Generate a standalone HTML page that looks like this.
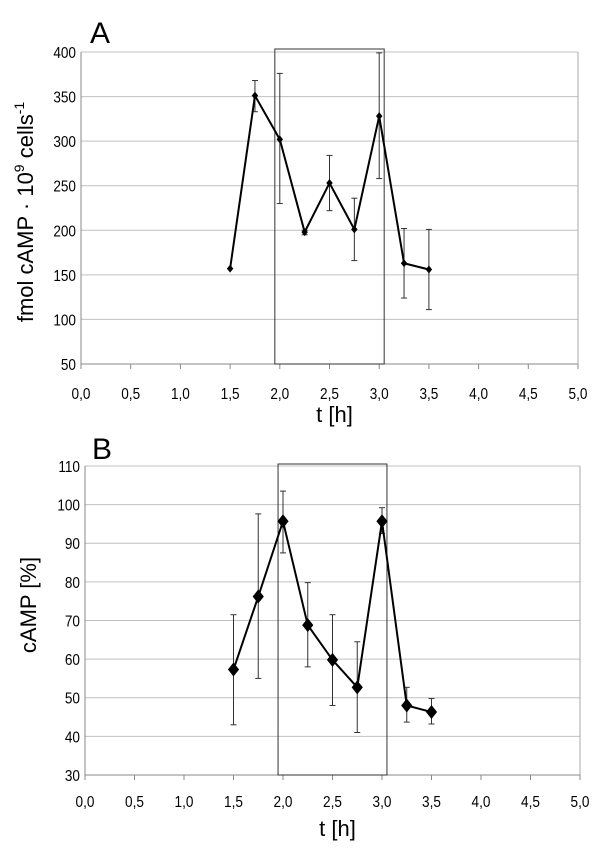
<!DOCTYPE html>
<html><head><meta charset="utf-8"><style>
html,body{margin:0;padding:0;background:#fff;}
svg{display:block;font-family:"Liberation Sans",Arial,sans-serif;}
</style></head><body>
<svg id="c" width="600" height="848" viewBox="0 0 600 848"></svg>
<script>
const xTicks=[0,0.5,1,1.5,2,2.5,3,3.5,4,4.5,5];
const xTickLabels=["0,0","0,5","1,0","1,5","2,0","2,5","3,0","3,5","4,0","4,5","5,0"];
const times=[1.5,1.75,2.0,2.25,2.5,2.75,3.0,3.25,3.5];
const aValues=[157,351,302,198,253,201,328,163,156];
const aErrLow=[157,333,230,195,222,166,258,124,111];
const aErrHigh=[157,368,376,200,284,236,399,202,201];
const aTicks=[50,100,150,200,250,300,350,400];
const bValues=[57.3,76.2,95.7,68.8,59.8,52.7,95.7,48,46.3];
const bErrLow=[43,55,87.5,58,48,41,92.5,43.7,43.2];
const bErrHigh=[71.5,97.6,103.5,79.8,71.5,64.5,99.2,52.7,49.8];
const bTicks=[30,40,50,60,70,80,90,100,110];
const boxRange=[1.95,3.05];

const NS="http://www.w3.org/2000/svg";
const svg=document.getElementById('c');
function mk(tag,attrs,parent){const e=document.createElementNS(NS,tag);for(const k in attrs)e.setAttribute(k,attrs[k]);(parent||svg).appendChild(e);return e;}

function panel(o){
  const g=mk('g',{});
  
  
  const xs=v=>o.L+(v-0)/(5-0)*(o.R-o.L);
  const ys=v=>o.B-(v-o.ymin)/(o.ymax-o.ymin)*(o.B-o.T);
  o.yt.forEach(t=>{
    const l=mk('line',{x1:o.L,x2:o.R,y1:ys(t),y2:ys(t),stroke:'#c0c0c0','stroke-width':1},g);
    
    
    const tx=mk('text',{x:o.L-5,y:ys(t)+6,'text-anchor':'end','font-size':16,fill:'#000',transform:`translate(${o.L-5},0) scale(0.85,1) translate(${-(o.L-5)},0)`},g);
    tx.textContent=t;
    
    
  });
  const ax=mk('line',{x1:o.L,x2:o.R,y1:o.B,y2:o.B,stroke:'#888','stroke-width':1},g);
  
  
  const ay=mk('line',{x1:o.L,x2:o.L,y1:o.T,y2:o.B,stroke:'#888','stroke-width':1},g);
  
  
  const ar=mk('line',{x1:o.R,x2:o.R,y1:o.T,y2:o.B,stroke:'#aaa','stroke-width':1},g);
  
  
  xTicks.forEach((t,i)=>{
    const l=mk('line',{x1:xs(t),x2:xs(t),y1:o.B,y2:o.B+5,stroke:'#888'},g);
    
    
    const tx=mk('text',{x:xs(t),y:o.xl,'text-anchor':'middle','font-size':16,transform:`translate(${xs(t)},0) scale(0.85,1) translate(${-xs(t)},0)`},g);
    tx.textContent=xTickLabels[i];
    
    
  });
  const box=mk('rect',{x:xs(boxRange[0]),y:o.boxT,width:xs(boxRange[1])-xs(boxRange[0]),height:o.B-o.boxT,fill:'none',stroke:'#333','stroke-width':1},g);
  
  
  times.forEach((t,i)=>{
    const x=xs(t);
    const e=mk('g',{stroke:'#333','stroke-width':1},g);
    
    
    mk('line',{x1:x,x2:x,y1:ys(o.lo[i]),y2:ys(o.hi[i])},e);
    mk('line',{x1:x-3,x2:x+3,y1:ys(o.lo[i]),y2:ys(o.lo[i])},e);
    mk('line',{x1:x-3,x2:x+3,y1:ys(o.hi[i]),y2:ys(o.hi[i])},e);
  });
  const pts=times.map((t,i)=>xs(t)+','+ys(o.vals[i])).join(' ');
  const pl=mk('polyline',{points:pts,fill:'none',stroke:'#000','stroke-width':2},g);
  
  
  times.forEach((t,i)=>{
    const x=xs(t),y=ys(o.vals[i]),m=o.m;
    const p=mk('polygon',{points:`${x},${y-m} ${x+m*0.8},${y} ${x},${y+m} ${x-m*0.8},${y}`,fill:'#000'},g);
    
    
  });
  const xt=mk('text',{x:(o.L+o.R)/2+5,y:o.xt,'text-anchor':'middle','font-size':22},g);
  xt.textContent='t [h]';
  
  
  const pl2=mk('text',{x:o.lx,y:o.ly,'font-size':30},g);
  pl2.textContent=o.letter;
  
  
  return {g,ys};
}
const A=panel({name:'panel-a',L:81,R:578,T:52,B:364,ymin:50,ymax:400,yt:aTicks,vals:aValues,lo:aErrLow,hi:aErrHigh,m:4,xl:399,xt:422,boxT:49,lx:90,ly:43,letter:'A'});
const ya=mk('text',{transform:'translate(33,212) rotate(-90)','text-anchor':'middle','font-size':22},A.g);
ya.innerHTML='fmol cAMP · 10<tspan dy="-9" font-size="14">9</tspan><tspan dy="9"> cells</tspan><tspan dy="-9" font-size="14">-1</tspan>';


const B=panel({name:'panel-b',L:85,R:580,T:466,B:775,ymin:30,ymax:110,yt:bTicks,vals:bValues,lo:bErrLow,hi:bErrHigh,m:7,xl:807,xt:836,boxT:464,lx:92,ly:459,letter:'B'});
const yb=mk('text',{transform:'translate(36,605) rotate(-90)','text-anchor':'middle','font-size':22},B.g);
yb.textContent='cAMP [%]';


</script>
</body></html>
